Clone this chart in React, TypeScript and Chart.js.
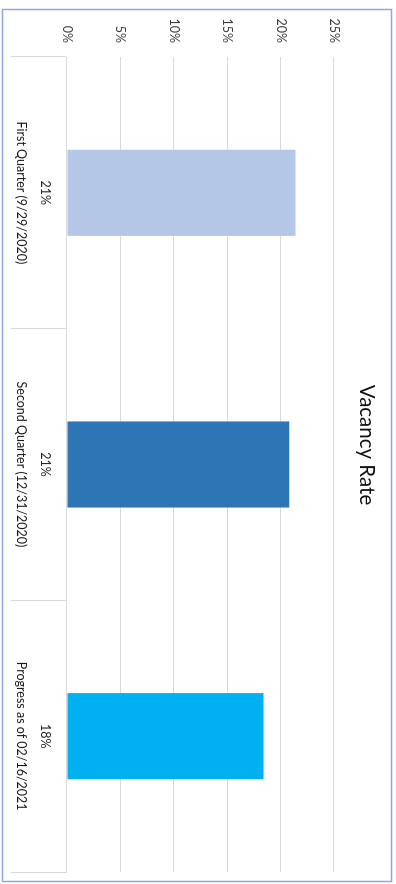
import React, { useEffect, useRef } from "react";
import { Chart, registerables } from "chart.js";

Chart.register(...registerables);

const categories = ["First Quarter (9/29/2020)", "Second Quarter (12/31/2020)", "Progress as of 02/16/2021"];
const vacancyRates = [21.4, 20.8, 18.4];
const barColors = ["#B4C7E7", "#2E75B6", "#00B0F0"];
const valueTicks = [0, 5, 10, 15, 20, 25];
const chartTitle = "Vacancy Rate";

const W = 884;
const H = 396;
const FONT = "Lato, 'Liberation Sans', sans-serif";

const frameBorder = {
  id: "frameBorder",
  afterDraw(chart: any) {
    const ctx = chart.ctx;
    ctx.save();
    ctx.strokeStyle = "#8EA9DB";
    ctx.lineWidth = 1.5;
    ctx.strokeRect(9.5, 4.5, 872, 389);
    ctx.restore();
  },
};

const baseLabels = {
  id: "baseLabels",
  afterDatasetsDraw(chart: any) {
    const ctx = chart.ctx;
    const meta = chart.getDatasetMeta(0);
    const data = chart.data.datasets[0].data as number[];
    ctx.save();
    ctx.font = `12.5px ${FONT}`;
    ctx.fillStyle = "#262626";
    ctx.textAlign = "center";
    ctx.textBaseline = "middle";
    meta.data.forEach((bar: any, i: number) => {
      ctx.fillText(`${Math.round(data[i])}%`, bar.x, chart.chartArea.bottom + 22);
    });
    ctx.restore();
  },
};

export default function App() {
  const ref = useRef<HTMLCanvasElement>(null);
  useEffect(() => {
    if (!ref.current) return;
    const chart = new Chart(ref.current, {
      type: "bar",
      data: {
        labels: categories,
        datasets: [
          {
            data: vacancyRates,
            backgroundColor: barColors,
            borderWidth: 0,
            categoryPercentage: 1,
            barPercentage: 0.317,
          },
        ],
      },
      options: {
        animation: false,
        responsive: false,
        devicePixelRatio: 1,
        layout: { padding: { left: 18, right: 12, top: 0, bottom: 0 } },
        plugins: {
          legend: { display: false },
          tooltip: { enabled: false },
          title: {
            display: true,
            text: chartTitle,
            color: "#111111",
            font: { family: FONT, size: 20.5, weight: "normal" },
            padding: { top: 16.7, bottom: 20.7 },
          },
        },
        scales: {
          x: {
            offset: true,
            grid: {
              display: true,
              offset: true,
              drawOnChartArea: false,
              drawTicks: true,
              tickLength: 56,
              color: "#D9D9D9",
            },
            border: { display: true, color: "#D9D9D9" },
            ticks: {
              color: "#1a1a1a",
              font: { family: FONT, size: 12.5 },
              padding: -18,
              maxRotation: 0,
              autoSkip: false,
            },
            afterFit(scale: any) {
              scale.height = 67;
            },
          },
          y: {
            min: 0,
            max: 25,
            afterBuildTicks(scale: any) {
              scale.ticks = valueTicks.map((v) => ({ value: v }));
            },
            grid: { color: "#D9D9D9", drawTicks: false },
            border: { display: false },
            ticks: {
              color: "#404040",
              font: { family: FONT, size: 12.5 },
              padding: 14,
              callback: (v: any) => `${v}%`,
            },
            afterFit(scale: any) {
              scale.width = 39;
            },
          },
        },
      },
      plugins: [frameBorder, baseLabels],
    });
    return () => chart.destroy();
  }, []);

  return (
    <div
      style={{
        position: "fixed",
        top: 0,
        left: 0,
        width: W,
        height: H,
        background: "#fff",
        transformOrigin: "0 0",
        transform: `translateX(${H}px) rotate(90deg)`,
      }}
    >
      <canvas ref={ref} width={W} height={H} style={{ width: W, height: H, display: "block" }} />
    </div>
  );
}
